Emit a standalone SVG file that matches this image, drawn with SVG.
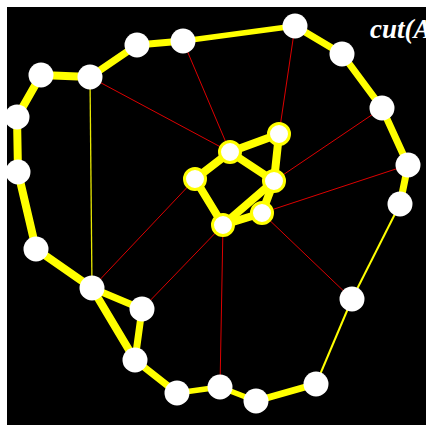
<svg xmlns="http://www.w3.org/2000/svg" width="426" height="425" viewBox="0 0 426 425">
<style>
.thick{stroke:#ffff00;stroke-linecap:round;fill:none}
.w7{stroke-width:7}
.w5{stroke-width:5.5}
.w8{stroke-width:8}
.thin{stroke:#ffff00;stroke-width:2;fill:none}
.hair{stroke:#e8e800;stroke-width:1.3;fill:none}
.red{stroke:#dd0000;stroke-width:1;fill:none}
.outer{fill:#ffffff}
.inner{fill:#ffffff;stroke:#ffff00;stroke-width:3}
.lbl{font-family:"Liberation Serif",serif;font-style:italic;font-weight:bold;font-size:27px;fill:#ffffff}
</style>
<rect x="0" y="0" width="426" height="425" fill="#ffffff"/>
<rect x="7" y="7" width="419" height="418" fill="#000000"/>
<g id="connectors">
<line class="red" x1="90" y1="77" x2="230" y2="152"/>
<line class="red" x1="183" y1="41" x2="230" y2="152"/>
<line class="red" x1="295" y1="26" x2="279" y2="134"/>
<line class="red" x1="382" y1="108" x2="274" y2="181"/>
<line class="red" x1="408" y1="165" x2="262" y2="213"/>
<line class="red" x1="352" y1="299" x2="262" y2="213"/>
<line class="red" x1="220" y1="387" x2="223" y2="225"/>
<line class="red" x1="142" y1="309" x2="223" y2="225"/>
<line class="red" x1="92" y1="288" x2="195" y2="179"/>
<line class="hair" x1="90" y1="77" x2="92" y2="288"/>
<line class="thin" x1="316" y1="384" x2="352" y2="299"/>
<line class="thin" x1="352" y1="299" x2="400" y2="204"/>
<line class="thick w7" x1="137" y1="45" x2="183" y2="41"/>
<line class="thick w5" x1="183" y1="41" x2="295" y2="26"/>
<line class="thick w7" x1="295" y1="26" x2="342" y2="54"/>
<line class="thick w7" x1="342" y1="54" x2="382" y2="108"/>
<line class="thick w7" x1="382" y1="108" x2="408" y2="165"/>
<line class="thick w7" x1="408" y1="165" x2="400" y2="204"/>
<line class="thick w7" x1="316" y1="384" x2="256" y2="401"/>
<line class="thick w5" x1="256" y1="401" x2="220" y2="387"/>
<line class="thick w5" x1="220" y1="387" x2="177" y2="393"/>
<line class="thick w7" x1="177" y1="393" x2="135" y2="360"/>
<line class="thick w7" x1="135" y1="360" x2="142" y2="309"/>
<line class="thick w8" x1="135" y1="360" x2="92" y2="288"/>
<line class="thick w7" x1="142" y1="309" x2="92" y2="288"/>
<line class="thick w8" x1="92" y1="288" x2="36" y2="249"/>
<line class="thick w8" x1="36" y1="249" x2="18" y2="172"/>
<line class="thick w8" x1="18" y1="172" x2="17" y2="117"/>
<line class="thick w8" x1="17" y1="117" x2="41" y2="75"/>
<line class="thick w8" x1="41" y1="75" x2="90" y2="77"/>
<line class="thick w7" x1="90" y1="77" x2="137" y2="45"/>
<line class="thick w8" x1="230" y1="152" x2="279" y2="134"/>
<line class="thick w8" x1="230" y1="152" x2="274" y2="181"/>
<line class="thick w8" x1="279" y1="134" x2="274" y2="181"/>
<line class="thick w8" x1="230" y1="152" x2="195" y2="179"/>
<line class="thick w8" x1="195" y1="179" x2="223" y2="225"/>
<line class="thick w8" x1="223" y1="225" x2="274" y2="181"/>
<line class="thick w8" x1="223" y1="225" x2="262" y2="213"/>
<line class="thick w8" x1="274" y1="181" x2="262" y2="213"/>
</g>
<g id="n1"><circle class="outer" cx="137" cy="45" r="12.5"/></g>
<g id="n2"><circle class="outer" cx="183" cy="41" r="12.5"/></g>
<g id="n3"><circle class="outer" cx="295" cy="26" r="12.5"/></g>
<g id="n4"><circle class="outer" cx="342" cy="54" r="12.5"/></g>
<g id="n5"><circle class="outer" cx="382" cy="108" r="12.5"/></g>
<g id="n6"><circle class="outer" cx="408" cy="165" r="12.5"/></g>
<g id="n7"><circle class="outer" cx="400" cy="204" r="12.5"/></g>
<g id="n8"><circle class="outer" cx="352" cy="299" r="12.5"/></g>
<g id="n9"><circle class="outer" cx="316" cy="384" r="12.5"/></g>
<g id="n10"><circle class="outer" cx="256" cy="401" r="12.5"/></g>
<g id="n11"><circle class="outer" cx="220" cy="387" r="12.5"/></g>
<g id="n12"><circle class="outer" cx="177" cy="393" r="12.5"/></g>
<g id="n13"><circle class="outer" cx="135" cy="360" r="12.5"/></g>
<g id="n14"><circle class="outer" cx="142" cy="309" r="12.5"/></g>
<g id="n15"><circle class="outer" cx="92" cy="288" r="12.5"/></g>
<g id="n16"><circle class="outer" cx="36" cy="249" r="12.5"/></g>
<g id="n17"><circle class="outer" cx="18" cy="172" r="12.5"/></g>
<g id="n18"><circle class="outer" cx="17" cy="117" r="12.5"/></g>
<g id="n19"><circle class="outer" cx="41" cy="75" r="12.5"/></g>
<g id="n20"><circle class="outer" cx="90" cy="77" r="12.5"/></g>
<g id="a"><circle class="inner" cx="230" cy="152" r="10.5"/></g>
<g id="b"><circle class="inner" cx="279" cy="134" r="10.5"/></g>
<g id="c"><circle class="inner" cx="274" cy="181" r="10.5"/></g>
<g id="d"><circle class="inner" cx="195" cy="179" r="10.5"/></g>
<g id="e"><circle class="inner" cx="262" cy="213" r="10.5"/></g>
<g id="f"><circle class="inner" cx="223" cy="225" r="10.5"/></g>
<text class="lbl" x="370" y="38">cut(A</text>
</svg>
